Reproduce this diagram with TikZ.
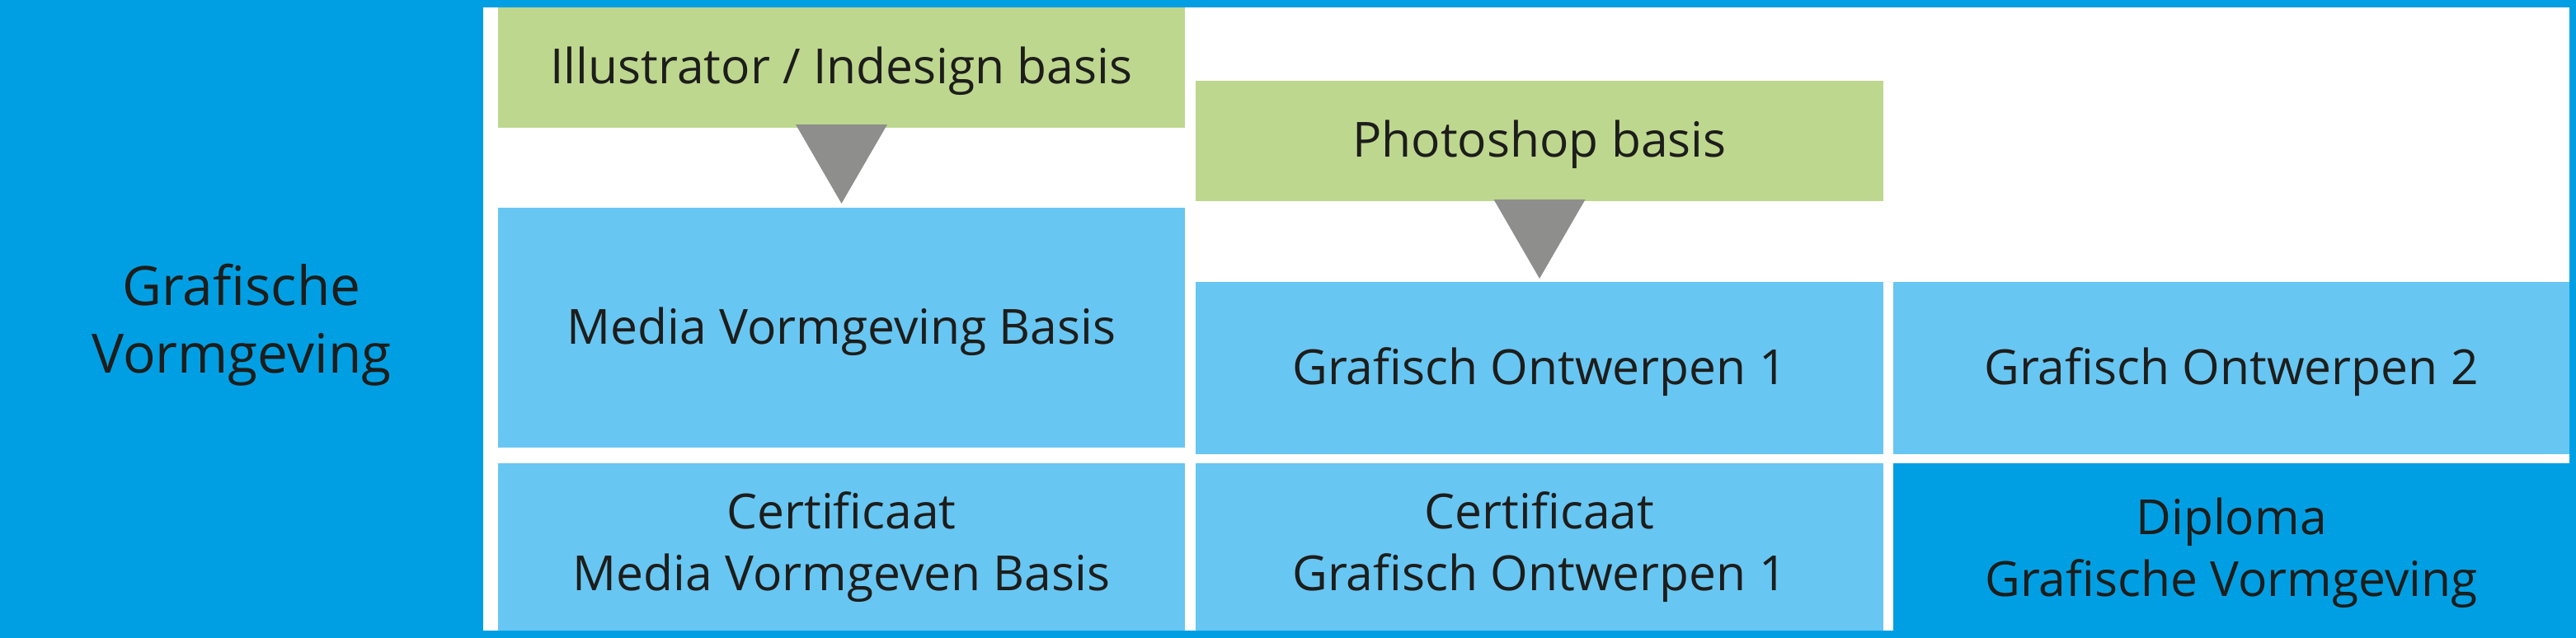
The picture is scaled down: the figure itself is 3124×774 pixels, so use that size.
\documentclass[tikz,border=0pt]{standalone}
\usepackage{fontspec}
\setmainfont{Open Sans}
\usetikzlibrary{calc}
\definecolor{dblue}{HTML}{009FE3}
\definecolor{lblue}{HTML}{68C6F2}
\definecolor{lgreen}{HTML}{BED78E}
\definecolor{tgray}{HTML}{8E8E8D}
\definecolor{ink}{HTML}{1D1D1B}
\tikzset{
  basebox/.style={inner sep=0pt, outer sep=0pt, align=center, text=ink,
    font=\fontsize{16.7}{21.3}\selectfont},
  oneline/.style={text height=12.7pt, text depth=1.5pt},
  greenbox/.style={basebox, oneline, fill=lgreen},
  bluebox/.style={basebox, fill=lblue},
  darkbox/.style={basebox, fill=dblue},
  sidelabel/.style={inner sep=0pt, align=center, text=ink,
    font=\fontsize{18.7}{23.3}\selectfont},
  pointer/.style={fill=tgray}
}
\begin{document}
\begin{tikzpicture}[x=0.01cm,y=-0.01cm]
\useasboundingbox (0,0) rectangle (3124,774);
\fill[dblue] (0,0) rectangle (3124,774);
\fill[white] (586,9) rectangle (3116,765);
\node[sidelabel] (gv) at (293,394) {Grafische\\Vormgeving};
\node[greenbox, minimum width=8.33cm, minimum height=1.46cm] (ill) at (1020.5,82) {Illustrator / Indesign basis};
\node[greenbox, minimum width=8.34cm, minimum height=1.46cm] (ps) at (1867,171) {Photoshop basis};
\node[bluebox, oneline, minimum width=8.33cm, minimum height=2.91cm] (mvb) at (1020.5,397.5) {Media Vormgeving Basis};
\node[bluebox, oneline, minimum width=8.34cm, minimum height=2.09cm] (go1) at (1867,446.5) {Grafisch Ontwerpen 1};
\node[bluebox, oneline, minimum width=8.20cm, minimum height=2.09cm] (go2) at (2706,446.5) {Grafisch Ontwerpen 2};
\node[bluebox, minimum width=8.33cm, minimum height=2.03cm] (c1) at (1020.5,663.5) {Certificaat\\Media Vormgeven Basis};
\node[bluebox, minimum width=8.34cm, minimum height=2.03cm] (c2) at (1867,663.5) {Certificaat\\Grafisch Ontwerpen 1};
\node[darkbox, minimum width=8.20cm, minimum height=2.17cm] (dip) at (2706,670.5) {Diploma\\Grafische Vormgeving};
\fill[pointer] ($(ill.south)+(-55.5,-4)$) -- ($(ill.south)+(55.5,-4)$) -- ($(mvb.north)+(0,-5)$) -- cycle;
\fill[pointer] ($(ps.south)+(-55.5,-2)$) -- ($(ps.south)+(55.5,-2)$) -- ($(go1.north)+(0,-4)$) -- cycle;
\end{tikzpicture}
\end{document}
